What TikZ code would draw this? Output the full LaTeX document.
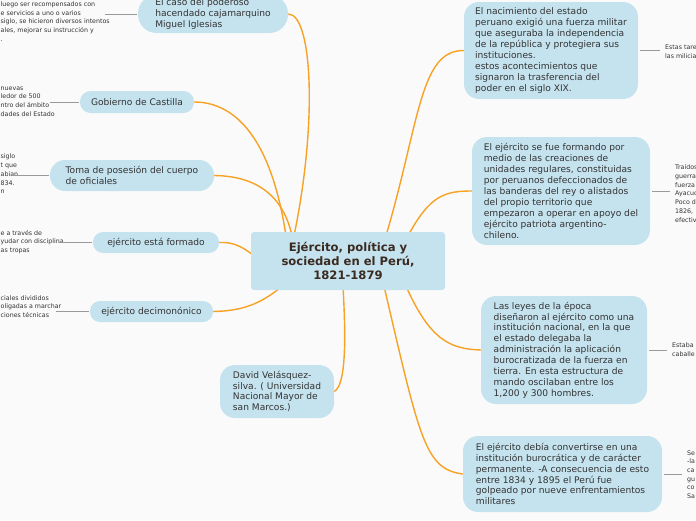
\documentclass[tikz,border=0pt]{standalone}
\usepackage{fontspec}
\setmainfont{DejaVu Sans}
\definecolor{nodefill}{HTML}{C5E3EF}
\definecolor{branch}{HTML}{F7A125}
\definecolor{txt}{HTML}{333333}
\definecolor{titlec}{HTML}{3A2A20}
\definecolor{leafc}{HTML}{9A9A9A}
\definecolor{bgc}{HTML}{FAFAFA}
\pgfdeclarelayer{bglayer}
\pgfdeclarelayer{edgelayer}
\pgfsetlayers{bglayer,edgelayer,main}
\tikzset{
  topic/.style={fill=nodefill, text=txt, align=left, inner sep=0pt, font=\fontsize{9.1}{10.9}\selectfont},
  branchline/.style={draw=branch, line width=1.4pt},
  leafline/.style={draw=leafc, line width=0.9pt},
  leaf/.style={text=txt, align=left, inner sep=0pt, font=\fontsize{6.3}{8.7}\selectfont},
}
\begin{document}
\begin{tikzpicture}[x=1pt,y=-1pt]
\begin{pgfonlayer}{bglayer}
\fill[bgc] (0,0) rectangle (696,520);
\end{pgfonlayer}
\useasboundingbox (0,0) rectangle (696,520);

% central node
\node[topic, minimum width=194pt, minimum height=58pt, rounded corners=3pt, align=center,
      text=titlec, font=\bfseries\fontsize{11.6}{14}\selectfont] (c) at (348,261)
  {Ejército, política y\\sociedad en el Perú,\\1821-1879};

% left topics
\node[topic, minimum width=150pt, minimum height=38pt, rounded corners=18.5pt] (n1) at (213,14)
  {El caso del poderoso\\hacendado cajamarquino\\Miguel Iglesias};
\node[topic, minimum width=114pt, minimum height=22pt, rounded corners=10.5pt] (n2) at (137,102)
  {Gobierno de Castilla};
\node[topic, minimum width=164pt, minimum height=31pt, rounded corners=15pt] (n3) at (132,175.5)
  {Toma de posesión del cuerpo\\de oficiales};
\node[topic, minimum width=126pt, minimum height=21pt, rounded corners=10pt] (n4) at (156,242.5)
  {ejército está formado};
\node[topic, minimum width=123pt, minimum height=21pt, rounded corners=10pt] (n5) at (151.5,311.5)
  {ejército decimonónico};
\node[topic, minimum width=114pt, minimum height=53pt, rounded corners=15pt] (n6) at (277,391.5)
  {David Velásquez-\\silva. ( Universidad\\Nacional Mayor de\\san Marcos.)};

% right topics
\node[topic, minimum width=174pt, minimum height=97pt, rounded corners=15pt] (n7) at (551,50.5)
  {El nacimiento del estado\\peruano exigió una fuerza militar\\que aseguraba la independencia\\de la república y protegiera sus\\instituciones.\\estos acontecimientos que\\signaron la trasferencia del\\poder en el siglo XIX.};
\node[topic, minimum width=178pt, minimum height=108pt, rounded corners=15pt] (n8) at (561,191)
  {El ejército se fue formando por\\medio de las creaciones de\\unidades regulares, constituidas\\por peruanos defeccionados de\\las banderas del rey o alistados\\del propio territorio que\\empezaron a operar en apoyo del\\ejército patriota argentino-\\chileno.};
\node[topic, minimum width=166pt, minimum height=108pt, rounded corners=15pt] (n9) at (564,350)
  {Las leyes de la época\\diseñaron al ejército como una\\institución nacional, en la que\\el estado delegaba la\\administración la aplicación\\burocratizada de la fuerza en\\tierra. En esta estructura de\\mando oscilaban entre los\\1,200 y 300 hombres.};
\node[topic, minimum width=199pt, minimum height=76pt, rounded corners=15pt] (n10) at (562.5,474)
  {El ejército debía convertirse en una\\institución burocrática y de carácter\\permanente. -A consecuencia de esto\\entre 1834 y 1895 el Perú fue\\golpeado por nueve enfrentamientos\\militares};

% leaf texts (cut by the page edge)
\node[leaf, anchor=west] (l1) at (0.5,21.5)
  {luego ser recompensados con\\e servicios a uno o varios\\siglo, se hicieron diversos intentos\\ales, mejorar su instrucción y\\.};
\node[leaf, anchor=west] (l2) at (0.5,101.5)
  {nuevas\\ledor de 500\\ntro del ámbito\\dades del Estado};
\node[leaf, anchor=west] (l3) at (0.5,174)
  {siglo\\t que\\abian\\834.\\n};
\node[leaf, anchor=west] (l4) at (0.5,242)
  {e a través de\\yudar con disciplina\\as tropas};
\node[leaf, anchor=west] (l5) at (0.5,306.5)
  {ciales divididos\\oligadas a marchar\\ciones técnicas};
\node[leaf, anchor=west] (l7) at (665,52)
  {Estas tare\\las milicia};
\node[leaf, anchor=west] (l8) at (675,193.5)
  {Traídos\\guerra\\fuerza\\Ayacuc\\Poco d\\1826,\\efectiv};
\node[leaf, anchor=west] (l9) at (672,349.5)
  {Estaba\\caballe};
\node[leaf, anchor=west] (l10) at (687,474.5)
  {Se\\-la\\ca\\gu\\co\\Sa};

% leaf connectors
\draw[leafline] ([xshift=-5pt]n1.west -| l1.east) -- ([xshift=-1pt]n1.west);
\draw[leafline] ([xshift=-5pt]n2.west -| l2.east) -- ([xshift=-1pt]n2.west);
\draw[leafline] ([xshift=-5pt]n3.west -| l3.east) -- ([xshift=-1pt]n3.west);
\draw[leafline] ([xshift=-5pt]n4.west -| l4.east) -- ([xshift=-1pt]n4.west);
\draw[leafline] ([xshift=-5pt]n5.west -| l5.east) -- ([xshift=-1pt]n5.west);
\draw[leafline] ([xshift=2pt]n7.east) -- ([xshift=-5pt]n7.east -| l7.west);
\draw[leafline] ([xshift=2pt]n8.east) -- ([xshift=-5pt]n8.east -| l8.west);
\draw[leafline] ([xshift=2pt]n9.east) -- ([xshift=-5pt]n9.east -| l9.west);
\draw[leafline] ([xshift=2pt]n10.east) -- ([xshift=-5pt]n10.east -| l10.west);

% branches
\begin{pgfonlayer}{edgelayer}
\draw[branchline] ([xshift=-54pt,yshift=-4pt]c.north) .. controls (318,120) and (312,14) .. (n1.east);
\draw[branchline] ([xshift=-62pt,yshift=-4pt]c.north) .. controls (270,130) and (230,102) .. (n2.east);
\draw[branchline] ([xshift=-56pt,yshift=-4pt]c.north) .. controls (282,190) and (250,176) .. (n3.east);
\draw[branchline] ([xshift=6pt,yshift=3pt]c.west) .. controls (240,244) and (230,242) .. (n4.east);
\draw[branchline] ([xshift=-66pt,yshift=4pt]c.south) .. controls (260,305) and (240,311) .. (n5.east);
\draw[branchline] ([xshift=-5pt,yshift=4pt]c.south) .. controls (346,340) and (346,385) .. (n6.east);
\draw[branchline] ([xshift=38pt,yshift=-4pt]c.north) .. controls (420,120) and (420,50) .. (n7.west);
\draw[branchline] ([xshift=60pt,yshift=-4pt]c.north) .. controls (430,195) and (445,191) .. (n8.west);
\draw[branchline] ([xshift=58pt,yshift=4pt]c.south) .. controls (430,340) and (450,349) .. (n9.west);
\draw[branchline] ([xshift=36pt,yshift=4pt]c.south) .. controls (420,440) and (425,469) .. (n10.west);
\end{pgfonlayer}
\end{tikzpicture}
\end{document}
